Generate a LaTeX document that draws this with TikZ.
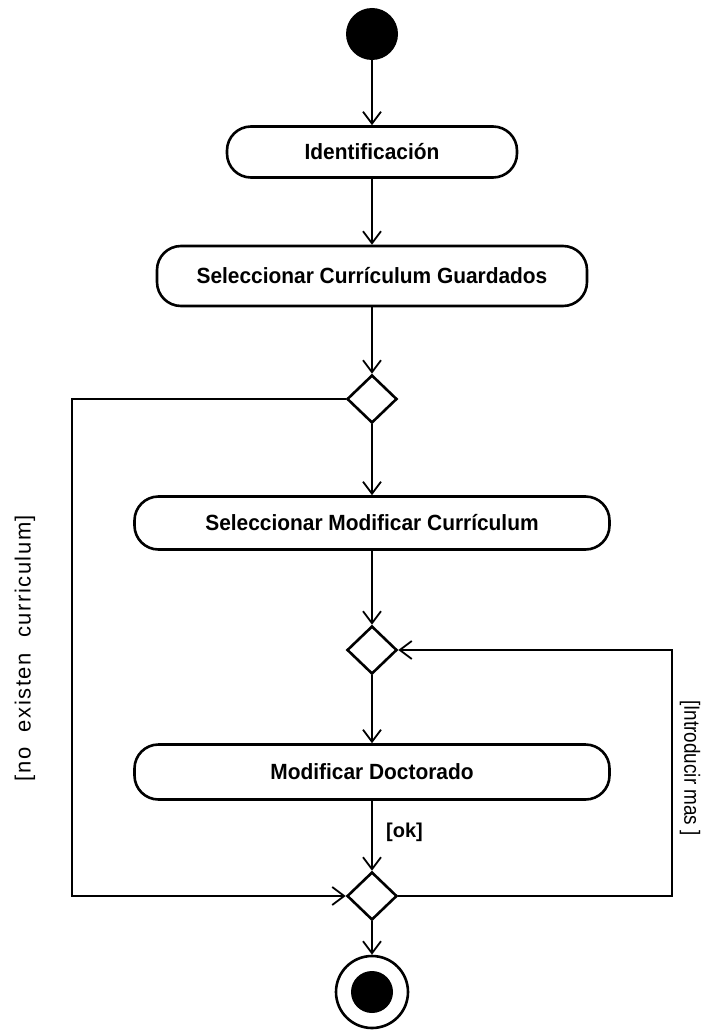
\documentclass[tikz,border=0pt]{standalone}
\usepackage{fontspec}
\setmainfont{Liberation Sans}
\usetikzlibrary{arrows.meta, shapes.geometric}
\tikzset{
  actividad/.style={draw, line width=2.6pt, rounded corners=24pt, inner sep=0pt,
    font=\fontsize{22}{24}\selectfont\bfseries\addfontfeature{FakeStretch=0.95}},
  decision/.style={diamond, draw, line width=2.6pt, minimum width=50pt,
    minimum height=48pt, inner sep=0pt},
  flecha/.style={line width=1.8pt, -{Straight Barb[length=12pt,width=18pt,line width=1.8pt]}},
  linea/.style={line width=1.8pt},
  guarda/.style={font=\fontsize{22}{24}\selectfont}
}

\begin{document}
\begin{tikzpicture}[x=1pt, y=-1pt]
    \useasboundingbox (0,0) rectangle (706,1030);

    % Estados inicial y final
    \node[circle, fill=black, minimum size=52pt, inner sep=0pt] (inicio) at (372,34) {};
    \node[circle, draw, line width=2.6pt, minimum size=72pt, inner sep=0pt] (fin) at (372,992) {};
    \node[circle, fill=black, minimum size=42pt, inner sep=0pt] (finpunto) at (fin.center) {};

    % Actividades
    \node[actividad, minimum width=290pt, minimum height=51pt] (ident) at (372,152) {Identificación};
    \node[actividad, minimum width=430pt, minimum height=60pt] (guard) at (372,276) {Seleccionar Currículum Guardados};
    \node[actividad, minimum width=475pt, minimum height=53pt] (modif) at (372,523) {Seleccionar Modificar Currículum};
    \node[actividad, minimum width=475pt, minimum height=55pt] (doct) at (372,772) {Modificar Doctorado};

    % Decisiones
    \node[decision] (dec1) at (372,399) {};
    \node[decision] (dec2) at (372,650) {};
    \node[decision] (dec3) at (372,896) {};

    % Esquinas
    \coordinate (izqA) at (72,399);
    \coordinate (izqB) at (72,896);
    \coordinate (derA) at (672,650);
    \coordinate (derB) at (672,896);

    % Flujo
    \draw[flecha] (inicio) -- (ident);
    \draw[flecha] (ident) -- (guard);
    \draw[flecha] (guard) -- (dec1);
    \draw[flecha] (dec1) -- (modif);
    \draw[flecha] (modif) -- (dec2);
    \draw[flecha] (dec2) -- (doct);
    \draw[flecha] (doct) -- node[pos=0.45, right=10pt, font=\fontsize{20}{22}\selectfont\bfseries] (ok) {[ok]} (dec3);
    \draw[flecha] (dec3) -- (fin);
    \draw[flecha] (dec1.west) -- (izqA) -- (izqB) -- (dec3.west);
    \draw[flecha] (dec3.east) -- (derB) -- (derA) -- (dec2.east);

    % Guardas
    \node[guarda, rotate=90] (noexiste) at (25,648) {\addfontfeature{LetterSpace=7}[no\ \ existen\ \ curriculum]};
    \node[guarda, rotate=-90] (intro) at (690,768) {\addfontfeature{FakeStretch=0.86}[Introducir mas ]};
\end{tikzpicture}
\end{document}
